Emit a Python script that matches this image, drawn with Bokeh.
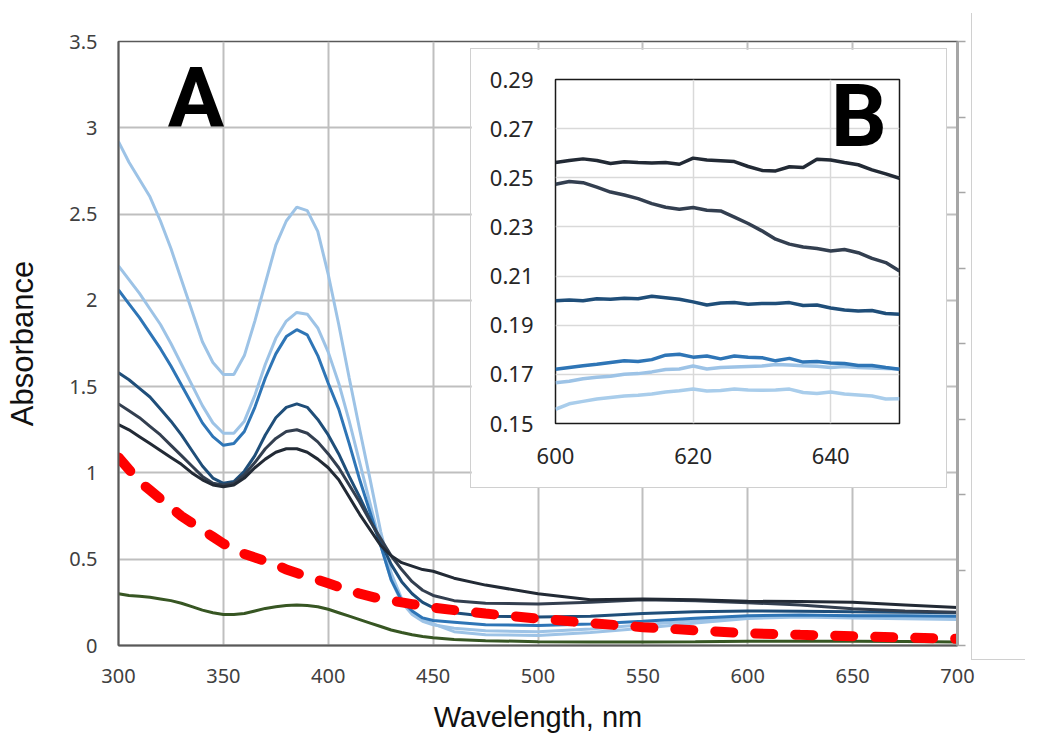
from bokeh.plotting import figure
from bokeh.models import Range1d, LinearAxis, FixedTicker, NumeralTickFormatter, Div, Label
from bokeh.layouts import column
from bokeh.embed import file_html
from bokeh.resources import INLINE

# ---------------- main panel (A) data ----------------
wavelength = [300, 305, 310, 315, 320, 325, 330, 335, 340, 345, 350, 355, 360, 365, 370,
              375, 380, 385, 390, 395, 400, 405, 410, 415, 420, 425, 430, 435, 440, 445,
              450, 460, 475, 500, 525, 550, 575, 600, 625, 650, 675, 700]

s1 = [2.92, 2.80, 2.70, 2.60, 2.46, 2.30, 2.12, 1.94, 1.76, 1.64, 1.57, 1.57, 1.68, 1.88, 2.10,
      2.32, 2.46, 2.54, 2.52, 2.40, 2.15, 1.86, 1.55, 1.25, 0.96, 0.66, 0.42, 0.27, 0.19, 0.15,
      0.125, 0.08, 0.062, 0.058, 0.075, 0.10, 0.13, 0.157, 0.165, 0.16, 0.155, 0.15]
s2 = [2.20, 2.12, 2.04, 1.95, 1.86, 1.75, 1.63, 1.51, 1.39, 1.29, 1.23, 1.23, 1.30, 1.45, 1.63,
      1.78, 1.88, 1.93, 1.92, 1.84, 1.70, 1.52, 1.30, 1.06, 0.82, 0.58, 0.38, 0.25, 0.18, 0.14,
      0.12, 0.10, 0.085, 0.08, 0.095, 0.12, 0.145, 0.167, 0.174, 0.172, 0.168, 0.165]
s3 = [2.06, 1.98, 1.90, 1.81, 1.72, 1.62, 1.51, 1.40, 1.29, 1.21, 1.16, 1.17, 1.24, 1.38, 1.55,
      1.69, 1.79, 1.83, 1.80, 1.68, 1.52, 1.37, 1.17, 0.96, 0.77, 0.58, 0.38, 0.26, 0.20, 0.16,
      0.145, 0.135, 0.12, 0.116, 0.125, 0.14, 0.158, 0.172, 0.177, 0.173, 0.172, 0.17]
s4 = [1.58, 1.54, 1.49, 1.44, 1.37, 1.30, 1.22, 1.13, 1.04, 0.97, 0.94, 0.95, 1.01, 1.10, 1.22,
      1.32, 1.38, 1.40, 1.38, 1.31, 1.22, 1.11, 0.98, 0.86, 0.73, 0.60, 0.47, 0.37, 0.30, 0.25,
      0.22, 0.19, 0.17, 0.165, 0.17, 0.185, 0.195, 0.200, 0.199, 0.195, 0.193, 0.19]
s5 = [1.40, 1.36, 1.32, 1.27, 1.22, 1.16, 1.10, 1.04, 0.98, 0.94, 0.93, 0.94, 0.99, 1.06, 1.14,
      1.20, 1.24, 1.25, 1.23, 1.18, 1.11, 1.03, 0.93, 0.83, 0.72, 0.62, 0.52, 0.44, 0.37, 0.32,
      0.29, 0.26, 0.245, 0.24, 0.25, 0.265, 0.26, 0.248, 0.235, 0.213, 0.20, 0.193]
s6 = [1.28, 1.25, 1.21, 1.17, 1.13, 1.09, 1.05, 1.00, 0.96, 0.93, 0.92, 0.93, 0.97, 1.03, 1.08,
      1.12, 1.14, 1.14, 1.12, 1.08, 1.03, 0.96, 0.86, 0.76, 0.67, 0.58, 0.52, 0.48, 0.46, 0.44,
      0.43, 0.39, 0.35, 0.30, 0.265, 0.27, 0.265, 0.256, 0.255, 0.25, 0.235, 0.22]
green = [0.30, 0.29, 0.285, 0.28, 0.27, 0.26, 0.245, 0.225, 0.205, 0.19, 0.18, 0.18, 0.185, 0.20, 0.215,
         0.225, 0.232, 0.235, 0.232, 0.225, 0.21, 0.19, 0.17, 0.15, 0.13, 0.11, 0.09, 0.075, 0.062, 0.052,
         0.045, 0.035, 0.028, 0.022, 0.02, 0.02, 0.022, 0.025, 0.025, 0.025, 0.023, 0.02]
red = [1.09, 1.02, 0.95, 0.90, 0.85, 0.80, 0.75, 0.71, 0.67, 0.63, 0.59, 0.56, 0.53, 0.51, 0.49,
       0.47, 0.44, 0.42, 0.40, 0.38, 0.36, 0.34, 0.32, 0.30, 0.285, 0.27, 0.26, 0.25, 0.24, 0.23,
       0.22, 0.205, 0.185, 0.156, 0.13, 0.106, 0.088, 0.071, 0.062, 0.054, 0.046, 0.039]

x_ticks = [300, 350, 400, 450, 500, 550, 600, 650, 700]
y_ticks = [0, 0.5, 1, 1.5, 2, 2.5, 3, 3.5]
right_ticks = [0, 1, 2, 3, 4, 5, 6, 7, 8]

# ---------------- inset panel (B) data ----------------
inset_wl = [600, 602, 604, 606, 608, 610, 612, 614, 616, 618, 620, 622, 624, 626, 628,
            630, 632, 634, 636, 638, 640, 642, 644, 646, 648, 650]
b1 = [0.1558, 0.1580, 0.1590, 0.1600, 0.1606, 0.1612, 0.1615, 0.1620, 0.1628, 0.1633, 0.1640, 0.1632, 0.1634,
      0.1640, 0.1636, 0.1635, 0.1636, 0.1640, 0.1626, 0.1622, 0.1628, 0.1620, 0.1616, 0.1612, 0.1600, 0.1601]
b2 = [0.1666, 0.1672, 0.1682, 0.1688, 0.1692, 0.1700, 0.1703, 0.1710, 0.1720, 0.1722, 0.1734, 0.1722, 0.1728,
      0.1730, 0.1732, 0.1734, 0.1740, 0.1738, 0.1735, 0.1733, 0.1728, 0.1732, 0.1728, 0.1726, 0.1724, 0.1722]
b3 = [0.1721, 0.1728, 0.1735, 0.1741, 0.1748, 0.1755, 0.1752, 0.1760, 0.1778, 0.1782, 0.1770, 0.1775, 0.1763,
      0.1775, 0.1770, 0.1768, 0.1755, 0.1765, 0.1750, 0.1752, 0.1746, 0.1744, 0.1736, 0.1736, 0.1728, 0.1721]
b4 = [0.2000, 0.2003, 0.2000, 0.2008, 0.2006, 0.2010, 0.2008, 0.2018, 0.2012, 0.2006, 0.1995, 0.1982, 0.1990,
      0.1992, 0.1985, 0.1988, 0.1988, 0.1992, 0.1980, 0.1982, 0.1970, 0.1962, 0.1958, 0.1960, 0.1948, 0.1945]
b5 = [0.2474, 0.2485, 0.2480, 0.2462, 0.2442, 0.2430, 0.2415, 0.2395, 0.2380, 0.2372, 0.2379, 0.2368, 0.2365,
      0.2340, 0.2314, 0.2284, 0.2250, 0.2230, 0.2218, 0.2212, 0.2202, 0.2208, 0.2195, 0.2172, 0.2155, 0.2121]
b6 = [0.2562, 0.2570, 0.2577, 0.2570, 0.2558, 0.2565, 0.2562, 0.2560, 0.2562, 0.2555, 0.2580, 0.2572, 0.2569,
      0.2566, 0.2546, 0.2530, 0.2528, 0.2545, 0.2542, 0.2575, 0.2572, 0.2562, 0.2553, 0.2532, 0.2516, 0.2498]

inset_x_ticks = [600, 620, 640]
inset_y_ticks = [0.15, 0.17, 0.19, 0.21, 0.23, 0.25, 0.27, 0.29]

blue_colors = ["#9DC3E6", "#9DC3E6", "#2E75B6", "#1F4E79", "#333F50", "#222A35"]
inset_colors = ["#A9CDEB", "#9DC3E6", "#2E75B6", "#1F4E79", "#333F50", "#222A35"]

# ---------------- main figure ----------------
p = figure(frame_width=839, frame_height=604, x_range=Range1d(300, 700), y_range=Range1d(0, 3.5),
           output_backend="svg", toolbar_location=None,
           min_border_left=118, min_border_right=75, min_border_top=41, min_border_bottom=87)
p.background_fill_color = "white"
p.border_fill_color = "white"
p.outline_line_color = "#595959"
p.outline_line_width = 1.5

p.xaxis.ticker = FixedTicker(ticks=x_ticks)
p.yaxis.ticker = FixedTicker(ticks=y_ticks)
p.yaxis.formatter = NumeralTickFormatter(format="0.[0]")
for ax in (p.xaxis[0], p.yaxis[0]):
    ax.axis_line_color = "#595959"
    ax.axis_line_width = 2
    ax.major_tick_line_color = None
    ax.minor_tick_line_color = None
    ax.major_label_text_font = "Noto Sans"
    ax.major_label_text_font_size = "20px"
    ax.major_label_text_color = "#404040"
    ax.axis_label_text_font = "Liberation Sans"
    ax.axis_label_text_font_style = "normal"
    ax.axis_label_text_color = "#111111"
p.xaxis.major_label_standoff = 17
p.yaxis.major_label_standoff = 15
p.xaxis.axis_label = "Wavelength, nm"
p.xaxis.axis_label_text_font_size = "29px"
p.xaxis.axis_label_standoff = 15
p.yaxis.axis_label = "Absorbance"
p.yaxis.axis_label_text_font_size = "31px"
p.yaxis.axis_label_standoff = 26

p.grid.grid_line_color = "#bfbfbf"
p.grid.grid_line_width = 2

# right-hand secondary tick axis (ticks only)
p.extra_y_ranges = {"right": Range1d(0, 8)}
rax = LinearAxis(y_range_name="right", ticker=FixedTicker(ticks=right_ticks),
                 major_label_overrides={t: "" for t in right_ticks},
                 major_tick_in=0, major_tick_out=8, minor_tick_line_color=None,
                 major_label_standoff=0,
                 axis_line_color="#a6a6a6", axis_line_width=3,
                 major_tick_line_color="#a6a6a6", major_tick_line_width=1.5)
p.add_layout(rax, "right")

p.line(wavelength, green, line_color="#375623", line_width=3)
for ys, c in zip([s1, s2, s3, s4, s5, s6], blue_colors):
    p.line(wavelength, ys, line_color=c, line_width=3)
p.line(wavelength, red, line_color="#FF0000", line_width=10, line_dash="18 22", line_cap="round")

p.add_layout(Label(x=323.5, y=3.17, text="A", text_font="Roboto", text_font_style="bold",
                   text_font_size="84px", text_color="black", text_baseline="alphabetic"))

edge = Div(width=54, height=647, styles={"position": "absolute", "left": "966px", "top": "8px",
                                         "border-left": "1px solid #d0d0d0",
                                         "border-bottom": "1px solid #d0d0d0", "z-index": "1"})
main_layout = column(p, edge, styles={"position": "relative"})

# ---------------- inset figure (separate root, placed over the main panel) ----------------
q = figure(frame_width=344, frame_height=344, x_range=Range1d(600, 650), y_range=Range1d(0.15, 0.29),
           output_backend="svg", toolbar_location=None,
           min_border_left=84, min_border_right=47, min_border_top=30, min_border_bottom=64)
q.background_fill_color = "white"
q.border_fill_color = "white"
q.outline_line_color = "#1a1a1a"
q.outline_line_width = 1.5
q.xaxis.ticker = FixedTicker(ticks=inset_x_ticks)
q.yaxis.ticker = FixedTicker(ticks=inset_y_ticks)
q.yaxis.formatter = NumeralTickFormatter(format="0.00")
for ax in (q.xaxis[0], q.yaxis[0]):
    ax.axis_line_color = None
    ax.major_tick_line_color = None
    ax.minor_tick_line_color = None
    ax.major_label_text_font = "Noto Sans"
    ax.major_label_text_font_size = "22px"
    ax.major_label_text_color = "#262626"
q.xaxis.major_label_standoff = 18
q.yaxis.major_label_standoff = 16
q.grid.grid_line_color = "#d9d9d9"
q.grid.grid_line_width = 1.5
for ys, c in zip([b1, b2, b3, b4, b5, b6], inset_colors):
    q.line(inset_wl, ys, line_color=c, line_width=3.5)
q.add_layout(Label(x=640.0, y=0.2753, text="B", text_font="Roboto", text_font_style="bold",
                   text_font_size="88px", text_color="black", text_baseline="alphabetic"))
q.styles = {"position": "absolute", "left": "470px", "top": "48px",
            "border": "1px solid #d0d0d0", "z-index": "2"}

open("out.html", "w").write(file_html([main_layout, q], INLINE))
